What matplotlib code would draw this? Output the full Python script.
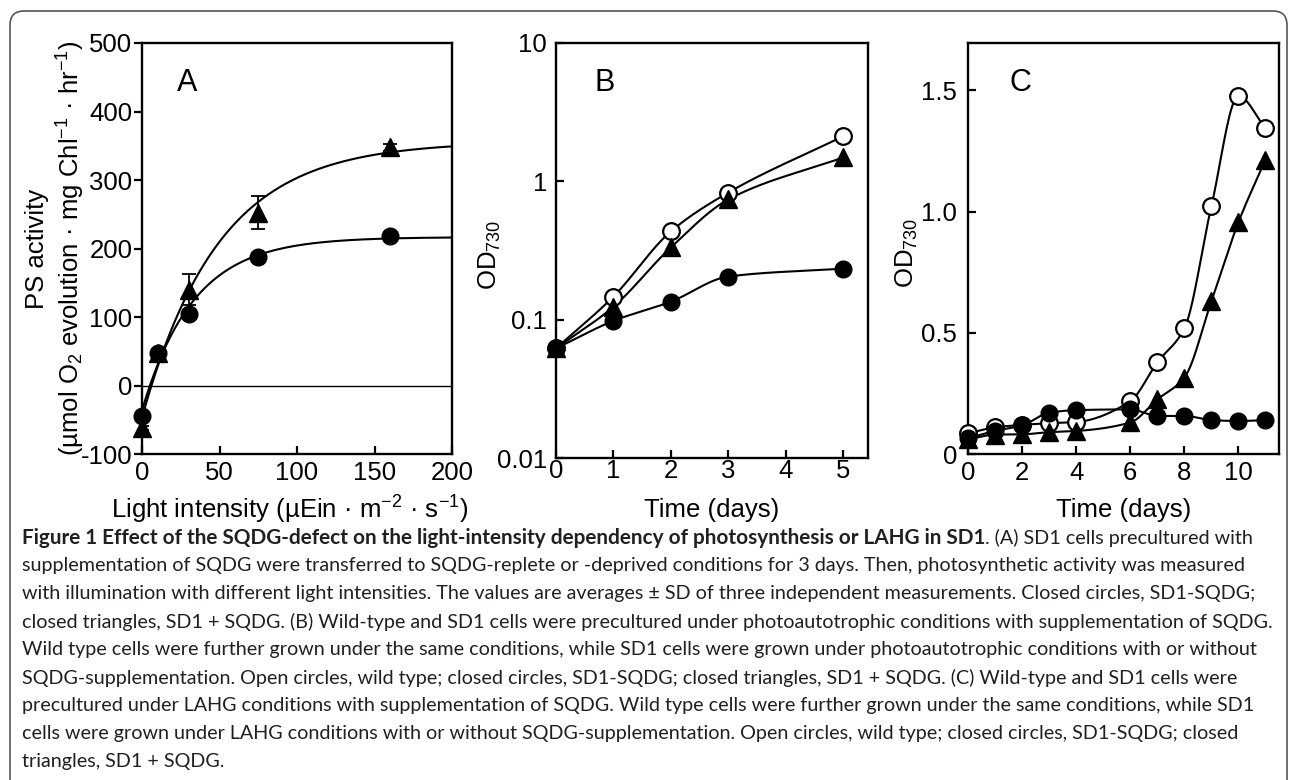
import numpy as np
import matplotlib
matplotlib.use('Agg')
import matplotlib.pyplot as plt
from matplotlib.patches import FancyBboxPatch
from matplotlib.transforms import IdentityTransform
from matplotlib.ticker import NullLocator

plt.rcParams['font.family'] = ['Liberation Sans', 'DejaVu Sans']
plt.rcParams['mathtext.fontset'] = 'custom'
plt.rcParams['mathtext.rm'] = 'Liberation Sans'
plt.rcParams['mathtext.it'] = 'Liberation Sans:italic'
plt.rcParams['mathtext.bf'] = 'Liberation Sans:bold'
plt.rcParams['axes.unicode_minus'] = False

# panel A: PS activity vs light intensity
light = [0, 10, 30, 75, 160]
ps_minus = [-45, 47, 105, 188, 218]      # closed circles, SD1-SQDG
ps_plus = [-62, 47, 140, 252, 348]       # closed triangles, SD1 + SQDG
ps_plus_sd = [3, 4, 23, 24, 5]

# panel B: photoautotrophic growth (log scale)
days_b = [0, 1, 2, 3, 5]
od_b_wt = [0.062, 0.147, 0.435, 0.83, 2.12]
od_b_minus = [0.062, 0.098, 0.135, 0.205, 0.234]
od_b_plus = [0.062, 0.124, 0.333, 0.74, 1.49]

# panel C: LAHG growth
days_c = [0, 1, 2, 3, 4, 6, 7, 8, 9, 10, 11]
od_c_wt = [0.085, 0.11, 0.12, 0.127, 0.132, 0.218, 0.378, 0.518, 1.022, 1.476, 1.343]
od_c_minus = [0.065, 0.095, 0.118, 0.17, 0.181, 0.184, 0.157, 0.157, 0.14, 0.136, 0.14]
od_c_plus = [0.06, 0.08, 0.081, 0.09, 0.095, 0.13, 0.225, 0.315, 0.63, 0.956, 1.214]

caption_bold = 'Figure 1 Effect of the SQDG-defect on the light-intensity dependency of photosynthesis or LAHG in SD1'
caption_lines = [
    '. (A) SD1 cells precultured with',
    'supplementation of SQDG were transferred to SQDG-replete or -deprived conditions for 3 days. Then, photosynthetic activity was measured',
    'with illumination with different light intensities. The values are averages \u00b1 SD of three independent measurements. Closed circles, SD1-SQDG;',
    'closed triangles, SD1 + SQDG. (B) Wild-type and SD1 cells were precultured under photoautotrophic conditions with supplementation of SQDG.',
    'Wild type cells were further grown under the same conditions, while SD1 cells were grown under photoautotrophic conditions with or without',
    'SQDG-supplementation. Open circles, wild type; closed circles, SD1-SQDG; closed triangles, SD1 + SQDG. (C) Wild-type and SD1 cells were',
    'precultured under LAHG conditions with supplementation of SQDG. Wild type cells were further grown under the same conditions, while SD1',
    'cells were grown under LAHG conditions with or without SQDG-supplementation. Open circles, wild type; closed circles, SD1-SQDG; closed',
    'triangles, SD1 + SQDG.',
]


def sat_fit(x, y, xmax=200):
    # y = c + a*(1 - exp(-x/b)), b by grid search
    x = np.asarray(x, float)
    y = np.asarray(y, float)
    best = None
    for b in np.linspace(5, 150, 600):
        m = np.column_stack([np.ones_like(x), 1 - np.exp(-x / b)])
        coef = np.linalg.lstsq(m, y, rcond=None)[0]
        err = np.sum((m @ coef - y) ** 2)
        if best is None or err < best[0]:
            best = (err, b, coef)
    _, b, (c, a) = best
    xs = np.linspace(0, xmax, 300)
    return xs, c + a * (1 - np.exp(-xs / b))


def smooth(x, y, log=False, n=40):
    # monotone cubic (pchip-like) through the points
    x = np.asarray(x, float)
    y = np.asarray(y, float)
    if log:
        y = np.log10(y)
    h = np.diff(x)
    d = np.diff(y) / h
    m = np.zeros_like(y)
    m[0], m[-1] = d[0], d[-1]
    for k in range(1, len(y) - 1):
        if d[k - 1] * d[k] > 0:
            w1 = 2 * h[k] + h[k - 1]
            w2 = h[k] + 2 * h[k - 1]
            m[k] = (w1 + w2) / (w1 / d[k - 1] + w2 / d[k])
    t = np.linspace(0, 1, n)
    h00 = 2 * t**3 - 3 * t**2 + 1
    h10 = t**3 - 2 * t**2 + t
    h01 = -2 * t**3 + 3 * t**2
    h11 = t**3 - t**2
    xs, ys = [], []
    for i in range(len(x) - 1):
        xs.append(x[i] + t * h[i])
        ys.append(h00 * y[i] + h10 * h[i] * m[i] + h01 * y[i + 1] + h11 * h[i] * m[i + 1])
    xs = np.concatenate(xs)
    ys = np.concatenate(ys)
    if log:
        ys = 10 ** ys
    return xs, ys


W, H = 1290, 780
fig = plt.figure(figsize=(12.9, 7.8), dpi=100)


def px_axes(l, t, r, b):
    return fig.add_axes([l / W, 1 - b / H, (r - l) / W, (b - t) / H])


def style(ax):
    for s in ax.spines.values():
        s.set_linewidth(1.7)
    ax.tick_params(labelsize=18.5, width=1.6, length=5.5)


fs = 18.5
circ = dict(marker='o', color='k', ms=12, ls='none', clip_on=False)
opn = dict(marker='o', mfc='white', mec='k', mew=1.6, ms=12, ls='none', clip_on=False)
tri = dict(marker='^', color='k', ms=13, ls='none', clip_on=False)

# ---- A
axA = px_axes(142, 43, 452, 454)
style(axA)
axA.axhline(0, color='k', lw=1.0)
for yy in (ps_minus, ps_plus):
    xs, ys = sat_fit(light, yy)
    axA.plot(xs, ys, 'k-', lw=1.5)
axA.errorbar(light, ps_plus, yerr=ps_plus_sd, fmt='none', ecolor='k', elinewidth=1.3,
             capsize=5, capthick=1.3)
axA.plot(light, ps_plus, zorder=4, **tri)
axA.plot(light, ps_minus, zorder=5, **circ)
axA.set_xlim(0, 200)
axA.set_ylim(-100, 500)
axA.set_xticks([0, 50, 100, 150, 200])
axA.set_yticks(list(range(-100, 501, 100)))
axA.tick_params(axis='x', direction='in', pad=5)
axA.tick_params(axis='y', direction='out', pad=1.5)
axA.text(0.145, 0.903, 'A', transform=axA.transAxes, fontsize=22, ha='center', va='center')
axA.text(-0.277, 0.5, 'PS activity\n(\u00b5mol O$_2$ evolution \u00b7 mg Chl$^{-1}$ \u00b7 hr$^{-1}$)',
         transform=axA.transAxes, rotation=90, ha='center', va='center', fontsize=fs,
         linespacing=1.25)
axA.text(0.475, -0.136, 'Light intensity (\u00b5Ein \u00b7 m$^{-2}$ \u00b7 s$^{-1}$)',
         transform=axA.transAxes, ha='center', va='center', fontsize=fs)

# ---- B
axB = px_axes(556, 43, 868, 458)
style(axB)
axB.set_yscale('log')
for yy in (od_b_wt, od_b_plus, od_b_minus):
    xs, ys = smooth(days_b, yy, log=True)
    axB.plot(xs, ys, 'k-', lw=1.5)
axB.plot(days_b, od_b_wt, zorder=3, **opn)
axB.plot(days_b, od_b_plus, zorder=4, **tri)
axB.plot(days_b, od_b_minus, zorder=5, **circ)
axB.set_xlim(0, 5.43)
axB.set_ylim(0.01, 10)
axB.set_xticks([0, 1, 2, 3, 4, 5])
axB.set_yticks([0.01, 0.1, 1, 10])
axB.set_yticklabels(['0.01', '0.1', '1', '10'])
axB.yaxis.set_minor_locator(NullLocator())
axB.tick_params(axis='x', direction='in', pad=1)
axB.tick_params(axis='y', direction='in', pad=6.5)
axB.text(0.157, 0.903, 'B', transform=axB.transAxes, fontsize=22, ha='center', va='center')
axB.text(-0.212, 0.49, 'OD$_{730}$', transform=axB.transAxes, rotation=90,
         ha='center', va='center', fontsize=fs)
axB.text(0.5, -0.125, 'Time (days)', transform=axB.transAxes, ha='center', va='center', fontsize=fs)

# ---- C
axC = px_axes(968, 43, 1279, 454)
style(axC)
for yy in (od_c_wt, od_c_plus, od_c_minus):
    xs, ys = smooth(days_c, yy)
    axC.plot(xs, ys, 'k-', lw=1.5)
axC.plot(days_c, od_c_wt, zorder=3, **opn)
axC.plot(days_c, od_c_plus, zorder=4, **tri)
axC.plot(days_c, od_c_minus, zorder=5, **circ)
axC.set_xlim(0, 11.5)
axC.set_ylim(0, 1.695)
axC.set_xticks([0, 2, 4, 6, 8, 10])
axC.set_yticks([0, 0.5, 1.0, 1.5])
axC.set_yticklabels(['0', '0.5', '1.0', '1.5'])
axC.tick_params(axis='x', direction='in', pad=5)
axC.tick_params(axis='y', direction='in', pad=8)
axC.text(0.17, 0.903, 'C', transform=axC.transAxes, fontsize=22, ha='center', va='center')
axC.text(-0.196, 0.49, 'OD$_{730}$', transform=axC.transAxes, rotation=90,
         ha='center', va='center', fontsize=fs)
axC.text(0.5, -0.136, 'Time (days)', transform=axC.transAxes, ha='center', va='center', fontsize=fs)

# ---- frame
frame = FancyBboxPatch((10, -40), 1277, 780 - 11 + 40, boxstyle='round,pad=0,rounding_size=14',
                       transform=IdentityTransform(), fill=False, ec='#555555', lw=1.2)
fig.patches.append(frame)

# ---- caption, sized so the lines span the frame width
renderer = fig.canvas.get_renderer()
cap_family = ['Lato', 'DejaVu Sans']
line_w = 1240


def text_w(s, size, weight='normal'):
    p = fig.text(0, 0, s, fontsize=size, fontweight=weight, family=cap_family,
                 transform=IdentityTransform())
    w = p.get_window_extent(renderer).width
    p.remove()
    return w


reg_size = 14 * line_w / text_w(caption_lines[2], 14)
rest_w = text_w(caption_lines[0], reg_size)
bold_size = 14 * (line_w - rest_w) / text_w(caption_bold, 14, 'bold')

cap_color = '#231f20'
y0 = H - 538
t1 = fig.text(22, y0, caption_bold, fontsize=bold_size, fontweight='bold', family=cap_family,
              color=cap_color, va='center', transform=IdentityTransform())
bb = t1.get_window_extent(renderer)
fig.text(bb.x1, y0, caption_lines[0], fontsize=reg_size, family=cap_family, color=cap_color,
         va='center', transform=IdentityTransform())
for i, line in enumerate(caption_lines[1:], start=1):
    fig.text(22, y0 - 28 * i, line, fontsize=reg_size, family=cap_family, color=cap_color,
             va='center', transform=IdentityTransform())

fig.savefig('out.png', dpi=100)
